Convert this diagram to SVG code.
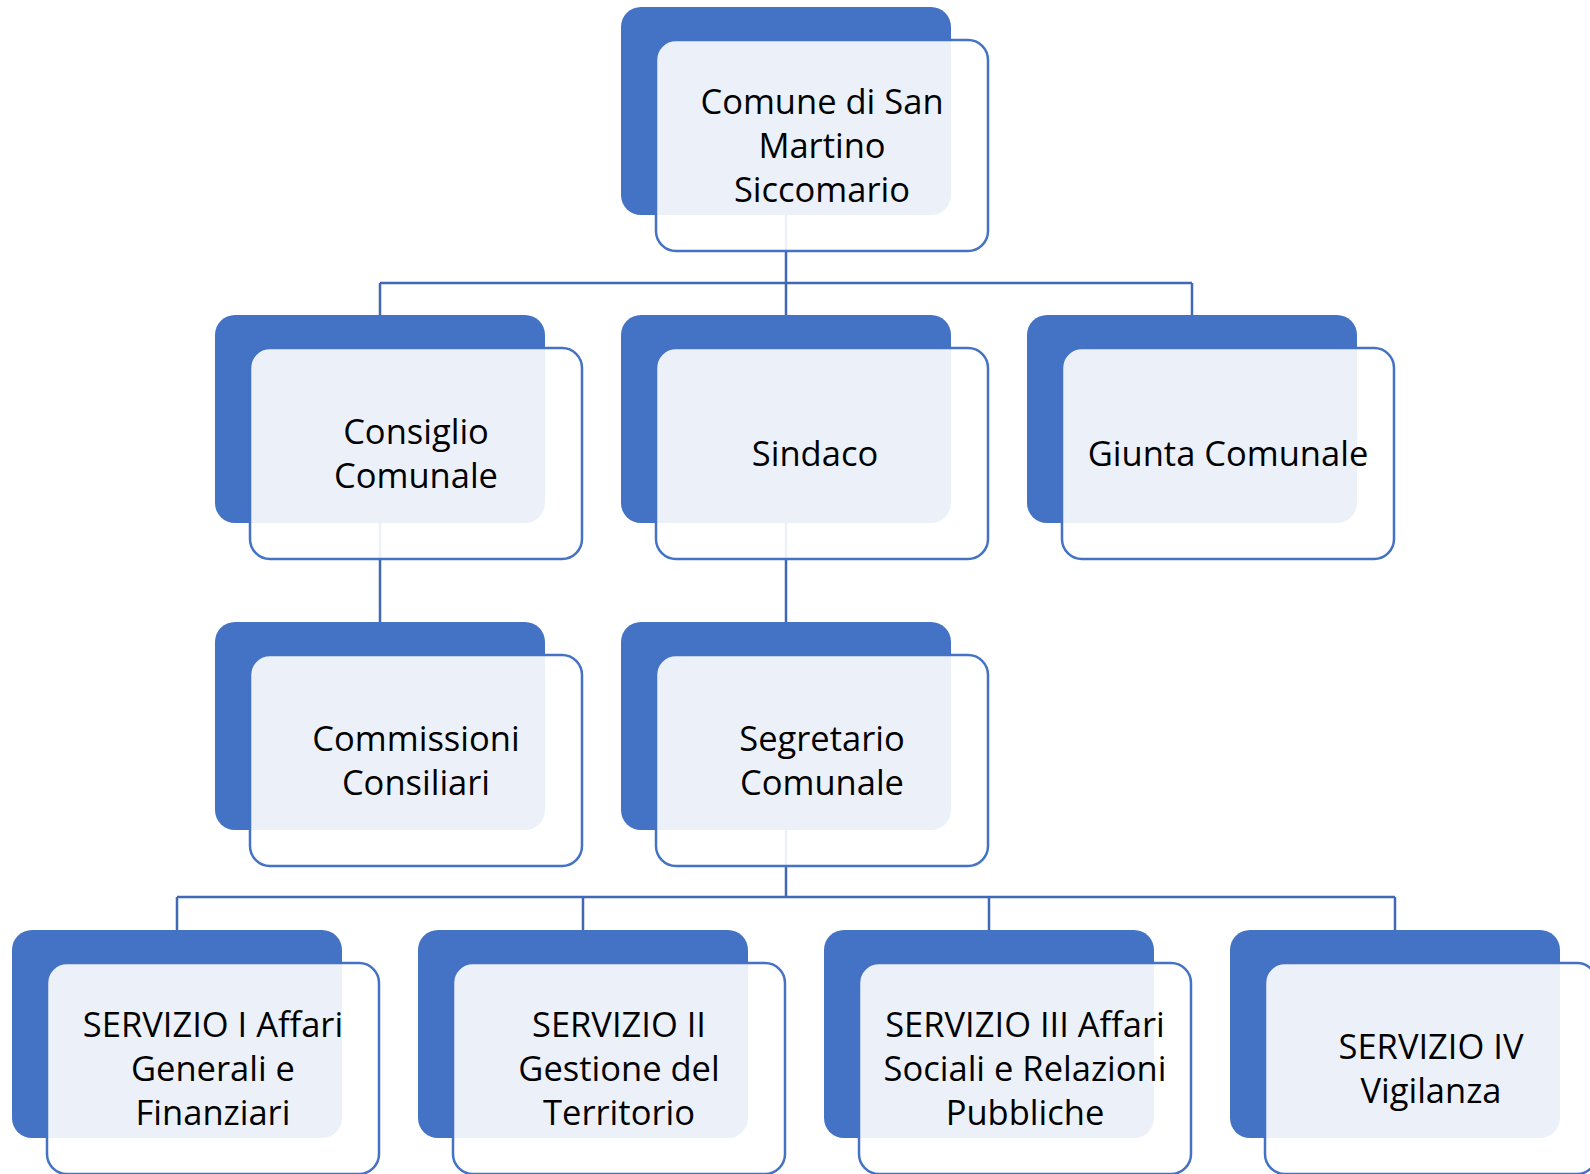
<svg xmlns="http://www.w3.org/2000/svg" width="1590" height="1174" viewBox="0 0 1590 1174">
<style>
.bk{fill:#4472C4}
.fr{fill:#FFFFFF;fill-opacity:0.9;stroke:#4472C4;stroke-width:2.5}
.ln{fill:none;stroke:#4068B4;stroke-width:2.5}
.t{font-family:"Open Sans","Liberation Sans",sans-serif;font-size:34.5px;fill:#000;text-anchor:middle}
</style>
<rect width="1590" height="1174" fill="#FFFFFF"/>
<g id="connectors">
<path class="ln" d="M786,215 V283 M380,283 H1192 M380,283 V315 M786,283 V315 M1192,283 V315"/>
<path class="ln" d="M380,523 V622 M786,523 V622"/>
<path class="ln" d="M786,830 V897 M177,897 H1395 M177,897 V930 M583,897 V930 M989,897 V930 M1395,897 V930"/>
</g>
<g id="n-comune">
<rect class="bk" x="621" y="7" width="330" height="208" rx="20"/>
<rect class="fr" x="656" y="40" width="332" height="211" rx="20"/>
<text class="t" x="822" y="113.5">Comune di San</text>
<text class="t" x="822" y="157.5">Martino</text>
<text class="t" x="822" y="201.5">Siccomario</text>
</g>
<g id="n-consiglio">
<rect class="bk" x="215" y="315" width="330" height="208" rx="20"/>
<rect class="fr" x="250" y="348" width="332" height="211" rx="20"/>
<text class="t" x="416" y="443.5">Consiglio</text>
<text class="t" x="416" y="487.5">Comunale</text>
</g>
<g id="n-sindaco">
<rect class="bk" x="621" y="315" width="330" height="208" rx="20"/>
<rect class="fr" x="656" y="348" width="332" height="211" rx="20"/>
<text class="t" x="815" y="465.5">Sindaco</text>
</g>
<g id="n-giunta">
<rect class="bk" x="1027" y="315" width="330" height="208" rx="20"/>
<rect class="fr" x="1062" y="348" width="332" height="211" rx="20"/>
<text class="t" x="1228" y="465.5">Giunta Comunale</text>
</g>
<g id="n-commissioni">
<rect class="bk" x="215" y="622" width="330" height="208" rx="20"/>
<rect class="fr" x="250" y="655" width="332" height="211" rx="20"/>
<text class="t" x="416" y="750.5">Commissioni</text>
<text class="t" x="416" y="794.5">Consiliari</text>
</g>
<g id="n-segretario">
<rect class="bk" x="621" y="622" width="330" height="208" rx="20"/>
<rect class="fr" x="656" y="655" width="332" height="211" rx="20"/>
<text class="t" x="822" y="750.5">Segretario</text>
<text class="t" x="822" y="794.5">Comunale</text>
</g>
<g id="n-servizio1">
<rect class="bk" x="12" y="930" width="330" height="208" rx="20"/>
<rect class="fr" x="47" y="963" width="332" height="211" rx="20"/>
<text class="t" x="213" y="1036.5">SERVIZIO I Affari</text>
<text class="t" x="213" y="1080.5">Generali e</text>
<text class="t" x="213" y="1124.5">Finanziari</text>
</g>
<g id="n-servizio2">
<rect class="bk" x="418" y="930" width="330" height="208" rx="20"/>
<rect class="fr" x="453" y="963" width="332" height="211" rx="20"/>
<text class="t" x="619" y="1036.5">SERVIZIO II</text>
<text class="t" x="619" y="1080.5">Gestione del</text>
<text class="t" x="619" y="1124.5">Territorio</text>
</g>
<g id="n-servizio3">
<rect class="bk" x="824" y="930" width="330" height="208" rx="20"/>
<rect class="fr" x="859" y="963" width="332" height="211" rx="20"/>
<text class="t" x="1025" y="1036.5">SERVIZIO III Affari</text>
<text class="t" x="1025" y="1080.5">Sociali e Relazioni</text>
<text class="t" x="1025" y="1124.5">Pubbliche</text>
</g>
<g id="n-servizio4">
<rect class="bk" x="1230" y="930" width="330" height="208" rx="20"/>
<rect class="fr" x="1265" y="963" width="332" height="211" rx="20"/>
<text class="t" x="1431" y="1058.5">SERVIZIO IV</text>
<text class="t" x="1431" y="1102.5">Vigilanza</text>
</g>
</svg>
